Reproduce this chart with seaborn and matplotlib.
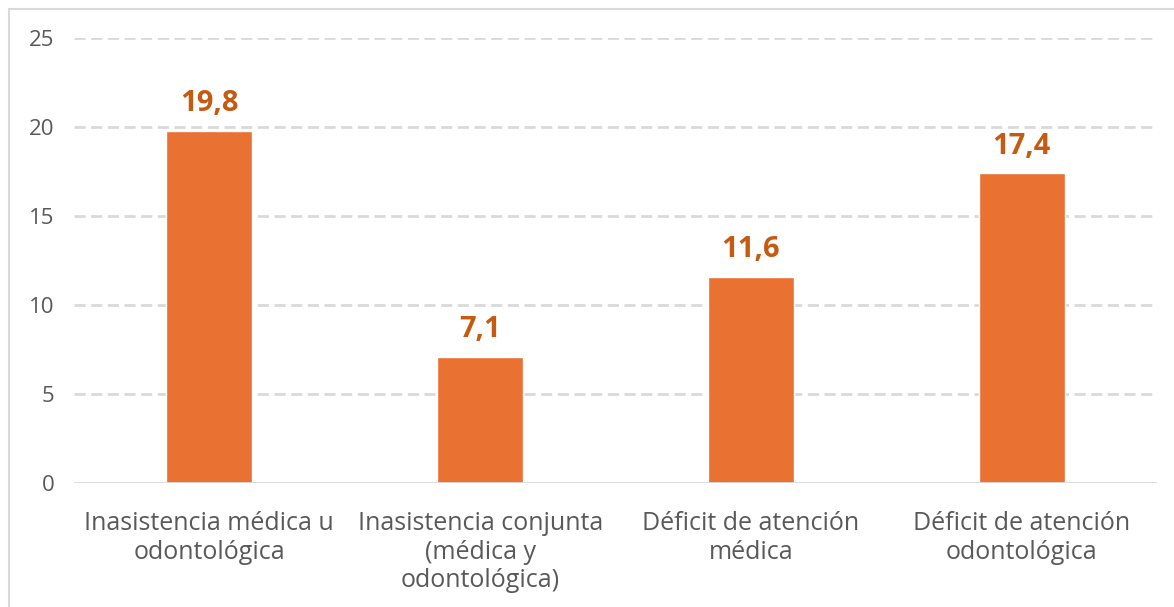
import matplotlib
matplotlib.use("Agg")
import matplotlib.pyplot as plt
from matplotlib.patches import Rectangle
import seaborn as sns
import pandas as pd

categories = [
    "Inasistencia médica u\nodontológica",
    "Inasistencia conjunta\n(médica y\nodontológica)",
    "Déficit de atención\nmédica",
    "Déficit de atención\nodontológica",
]
values = [19.8, 7.1, 11.6, 17.4]
y_ticks = [0, 5, 10, 15, 20, 25]

BAR_COLOR = "#E97132"
LABEL_COLOR = "#C55A11"
TEXT_COLOR = "#595959"
GRID_COLOR = "#D9D9D9"

sns.set_theme(style="white")
plt.rcParams["font.family"] = ["Open Sans", "DejaVu Sans"]

W, H = 1174, 607
fig = plt.figure(figsize=(W / 100, H / 100), dpi=100)
fig.patch.set_facecolor("white")

left, right, top, bottom = 74, 1157, 38, 483
ax = fig.add_axes([left / W, (H - bottom) / H, (right - left) / W, (bottom - top) / H])

df = pd.DataFrame({"categoria": categories, "valor": values})
sns.barplot(data=df, x="categoria", y="valor", color=BAR_COLOR, width=0.317,
            saturation=1, ax=ax, zorder=3)

ax.set_ylim(0, 25)
ax.set_xlim(-0.5, len(categories) - 0.5)
ax.set_yticks(y_ticks)
ax.set_yticklabels([str(t) for t in y_ticks])
ax.set_xlabel("")
ax.set_ylabel("")

# dashed horizontal gridlines (skip the baseline)
for t in y_ticks[1:]:
    ax.axhline(t, color=GRID_COLOR, lw=2.0, ls=(0, (4, 2)), zorder=1)
ax.axhline(0, color=GRID_COLOR, lw=2.0, zorder=4)

for s in ax.spines.values():
    s.set_visible(False)

ax.tick_params(axis="y", length=0, pad=14, labelsize=16, labelcolor=TEXT_COLOR)
ax.tick_params(axis="x", length=0, pad=20, labelsize=18, labelcolor=TEXT_COLOR)
for lbl in ax.get_xticklabels():
    lbl.set_linespacing(1.2)

# value labels above the bars
for i, v in enumerate(values):
    ax.annotate(f"{v:.1f}".replace(".", ","), (i, v), xytext=(0, 9),
                textcoords="offset points", ha="center", va="bottom",
                fontsize=21, fontweight="bold", color=LABEL_COLOR)

# light frame around the chart area
fig.patches.append(Rectangle((9 / W, -0.1), 1.2, (H - 9) / H + 0.1,
                             transform=fig.transFigure, fill=False,
                             edgecolor=GRID_COLOR, lw=1.5))

fig.savefig("out.png", dpi=100)
